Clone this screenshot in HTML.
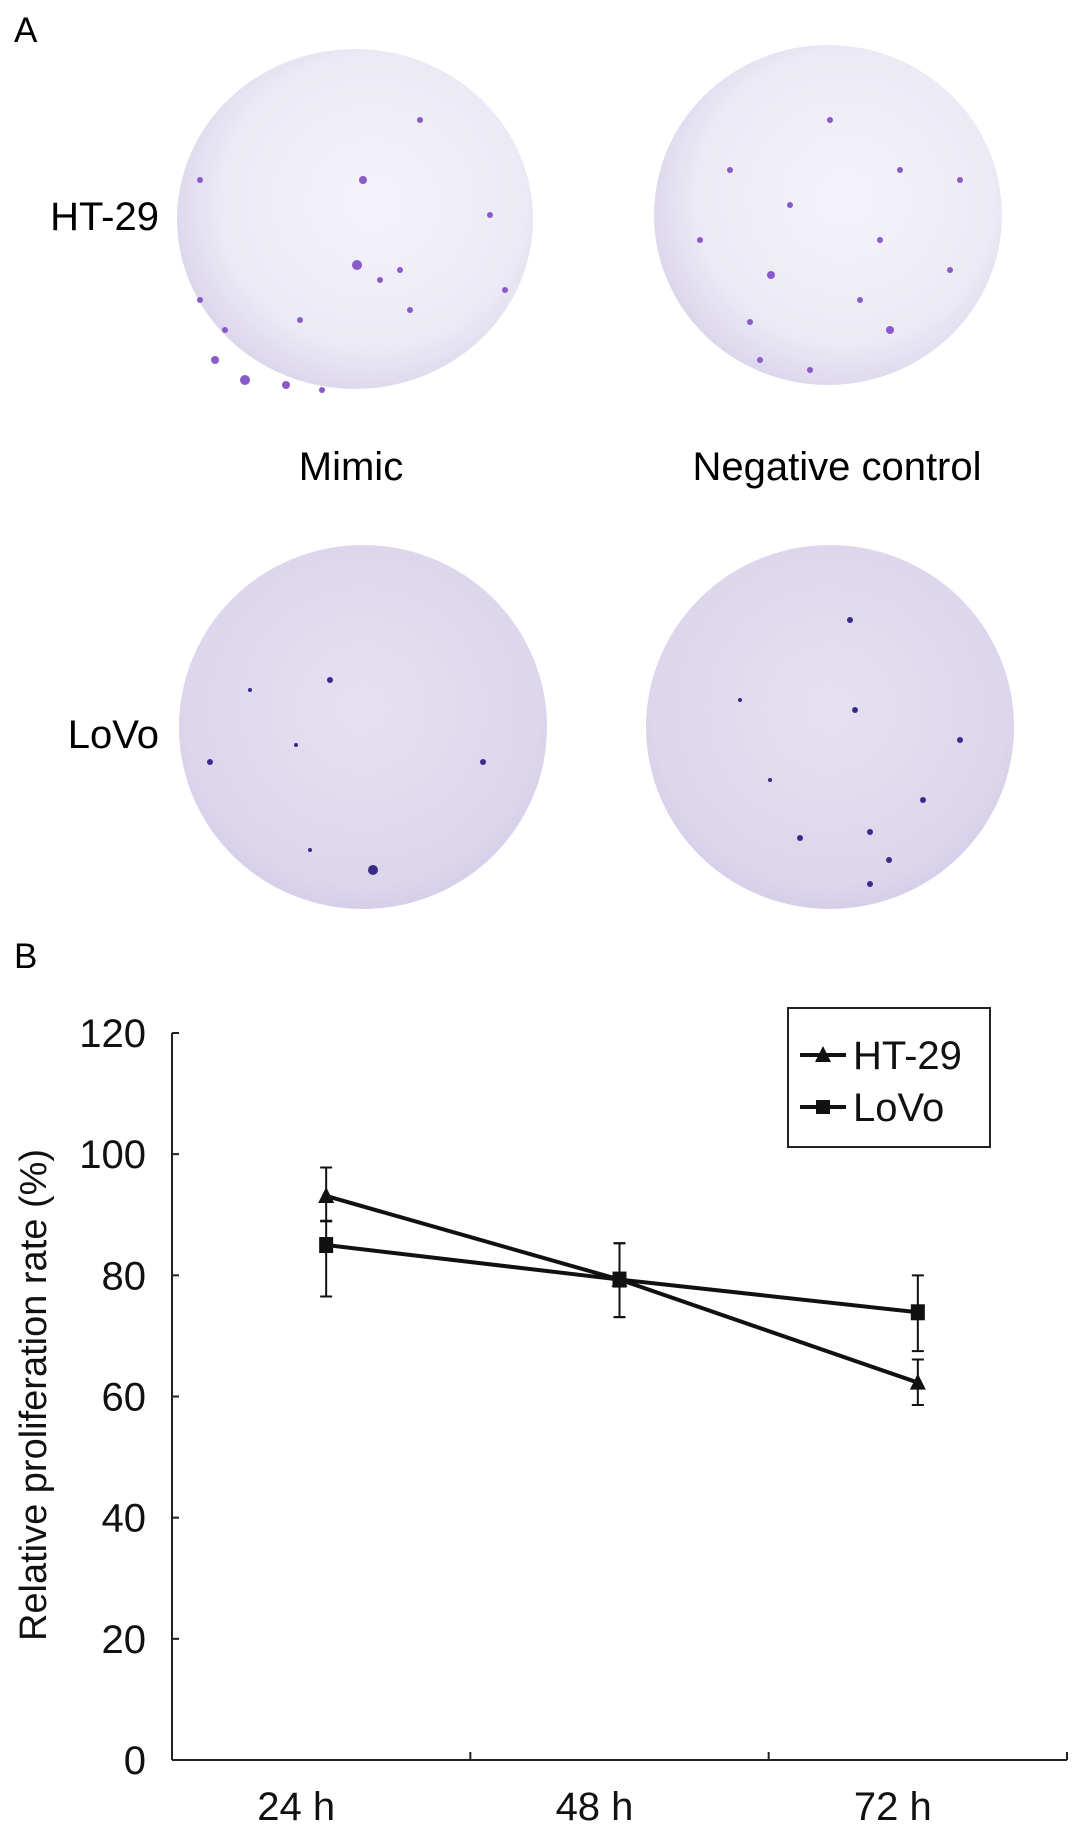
<!DOCTYPE html>
<html><head><meta charset="utf-8"><style>
html,body{margin:0;padding:0;background:#fff;}
body{width:1087px;height:1833px;overflow:hidden;font-family:"Liberation Sans",Arial,sans-serif;}
</style></head><body>
<svg width="1087" height="1833" viewBox="0 0 1087 1833" xmlns="http://www.w3.org/2000/svg" font-family="Liberation Sans, Arial, sans-serif">
<defs>
<radialGradient id="pl1" cx="55%" cy="45%" r="60%"><stop offset="0" stop-color="#f4f3f9"/><stop offset="0.7" stop-color="#ecebf5"/><stop offset="1" stop-color="#d9d2ea"/></radialGradient>
<radialGradient id="pl2" cx="50%" cy="45%" r="60%"><stop offset="0" stop-color="#e6e1f1"/><stop offset="0.8" stop-color="#ddd6ec"/><stop offset="1" stop-color="#d2c9e6"/></radialGradient>
</defs>
<g>
<text x="14" y="42" font-size="35">A</text>
<ellipse cx="355" cy="219" rx="178" ry="170" fill="url(#pl1)"/>
<ellipse cx="828" cy="215" rx="174" ry="170" fill="url(#pl1)"/>
<ellipse cx="363" cy="727" rx="184" ry="182" fill="url(#pl2)"/>
<ellipse cx="830" cy="727" rx="184" ry="182" fill="url(#pl2)"/>
<g fill="#8a5ac8">
<circle cx="363" cy="180" r="4"/><circle cx="357" cy="265" r="5"/><circle cx="380" cy="280" r="3"/><circle cx="245" cy="380" r="5"/><circle cx="286" cy="385" r="4"/><circle cx="322" cy="390" r="3"/><circle cx="400" cy="270" r="3"/><circle cx="410" cy="310" r="3"/><circle cx="225" cy="330" r="3"/><circle cx="200" cy="300" r="3"/><circle cx="490" cy="215" r="3"/><circle cx="505" cy="290" r="3"/><circle cx="215" cy="360" r="4"/><circle cx="300" cy="320" r="3"/><circle cx="420" cy="120" r="3"/><circle cx="200" cy="180" r="3"/>
<circle cx="771" cy="275" r="4"/><circle cx="790" cy="205" r="3"/><circle cx="830" cy="120" r="3"/><circle cx="890" cy="330" r="4"/><circle cx="750" cy="322" r="3"/><circle cx="810" cy="370" r="3"/><circle cx="900" cy="170" r="3"/><circle cx="880" cy="240" r="3"/><circle cx="730" cy="170" r="3"/><circle cx="760" cy="360" r="3"/><circle cx="950" cy="270" r="3"/><circle cx="700" cy="240" r="3"/><circle cx="960" cy="180" r="3"/><circle cx="860" cy="300" r="3"/>
</g>
<g fill="#3a2a8a">
<circle cx="373" cy="870" r="5"/><circle cx="483" cy="762" r="3"/><circle cx="210" cy="762" r="3"/><circle cx="310" cy="850" r="2"/><circle cx="296" cy="745" r="2"/><circle cx="250" cy="690" r="2"/><circle cx="330" cy="680" r="3"/>
<circle cx="870" cy="832" r="3"/><circle cx="889" cy="860" r="3"/><circle cx="870" cy="884" r="3"/><circle cx="800" cy="838" r="3"/><circle cx="923" cy="800" r="3"/><circle cx="855" cy="710" r="3"/><circle cx="770" cy="780" r="2"/><circle cx="850" cy="620" r="3"/><circle cx="960" cy="740" r="3"/><circle cx="740" cy="700" r="2"/>
</g>
<text x="159" y="230" font-size="40" text-anchor="end">HT-29</text>
<text x="159" y="748" font-size="40" text-anchor="end">LoVo</text>
<text x="351" y="480" font-size="40" text-anchor="middle">Mimic</text>
<text x="837" y="480" font-size="40" text-anchor="middle">Negative control</text>
</g>
<text x="14" y="968" font-size="35">B</text>
<g id="chart"></g>
</svg>
<script>
const categories = ["24 h", "48 h", "72 h"];
const yTicks = [0, 20, 40, 60, 80, 100, 120];
const ht29Values = [93.1, 79.3, 62.3];
const ht29Upper = [97.8, 85.3, 66.1];
const ht29Lower = [88.9, 73.1, 58.6];
const lovoValues = [85.0, 79.3, 73.9];
const lovoUpper = [89.0, 85.3, 80.0];
const lovoLower = [76.5, 73.1, 67.5];

const NS = "http://www.w3.org/2000/svg";
const g = document.getElementById('chart');
const X0 = 172, X1 = 1067, Y0 = 1760, Y120 = 1033;
const band = (X1 - X0) / categories.length;
function xs(i){ return X0 + band * (i + 0.5); }
function ys(v){ return Y0 - (v / 120) * (Y0 - Y120); }
function mk(tag, attrs){ const e = document.createElementNS(NS, tag); for (const k in attrs) e.setAttribute(k, attrs[k]); g.appendChild(e); return e; }

let e = mk('line', {x1:X0, y1:Y120, x2:X0, y2:Y0, stroke:'#222', 'stroke-width':2});


e = mk('line', {x1:X0, y1:Y0, x2:X1, y2:Y0, stroke:'#222', 'stroke-width':2});


yTicks.forEach(function(t){
  const y = ys(t);
  let tk = mk('line', {x1:X0, y1:y, x2:X0+7, y2:y, stroke:'#222', 'stroke-width':2});
  
  
  const lb = mk('text', {x:146, y:y+14, 'font-size':40, 'text-anchor':'end', fill:'#111'});
  lb.textContent = t;
  
  
});
for (let i = 0; i <= categories.length; i++){
  const x = X0 + band * i;
  const tk = mk('line', {x1:x, y1:Y0, x2:x, y2:Y0-8, stroke:'#222', 'stroke-width':2});
  
  
}
categories.forEach(function(c, i){
  const lb = mk('text', {x:xs(i)-25, y:1820, 'font-size':40, 'text-anchor':'middle', fill:'#111'});
  lb.textContent = c;
  
  
});
const yt = mk('text', {x:0, y:0, 'font-size':38, 'text-anchor':'middle', fill:'#111', transform:'translate(46,1395) rotate(-90)'});
yt.textContent = 'Relative proliferation rate (%)';



function series(vals, up, lo, name, marker){
  for (let i = 0; i < vals.length; i++){
    const x = xs(i) + (i===0 ? 5 : 0);
    const eb = mk('path', {d:'M'+x+' '+ys(up[i])+'V'+ys(lo[i])+'M'+(x-6)+' '+ys(up[i])+'h12M'+(x-6)+' '+ys(lo[i])+'h12', stroke:'#111', 'stroke-width':2, fill:'none'});
    
    
  }
  const pts = vals.map(function(v, i){ return (xs(i) + (i===0 ? 5 : 0)) + ',' + ys(v); }).join(' ');
  const pl = mk('polyline', {points:pts, fill:'none', stroke:'#111', 'stroke-width':4});
  
  
  vals.forEach(function(v, i){
    const x = xs(i) + (i===0 ? 5 : 0), y = ys(v);
    let m;
    if (marker === 'tri') m = mk('polygon', {points:(x)+','+(y-9)+' '+(x-8)+','+(y+7)+' '+(x+8)+','+(y+7), fill:'#111'});
    else m = mk('rect', {x:x-7, y:y-8, width:14, height:16, fill:'#111'});
    
    
  });
}
series(lovoValues, lovoUpper, lovoLower, 'lovo', 'sq');
series(ht29Values, ht29Upper, ht29Lower, 'ht29', 'tri');

const lg = mk('rect', {x:788, y:1008, width:202, height:139, fill:'#fff', stroke:'#222', 'stroke-width':2});


[['HT-29','tri'],['LoVo','sq']].forEach(function(item, k){
  const y = 1055 + k*52;
  const ln = mk('line', {x1:800, y1:y, x2:846, y2:y, stroke:'#111', 'stroke-width':4});
  
  
  let m = item[1]==='tri' ? mk('polygon', {points:'823,'+(y-9)+' 815,'+(y+7)+' 831,'+(y+7), fill:'#111'}) : mk('rect', {x:816, y:y-7, width:14, height:14, fill:'#111'});
  
  
  const t = mk('text', {x:853, y:y+14, 'font-size':40, fill:'#111'});
  t.textContent = item[0];
  
  
});
</script>
</body></html>
